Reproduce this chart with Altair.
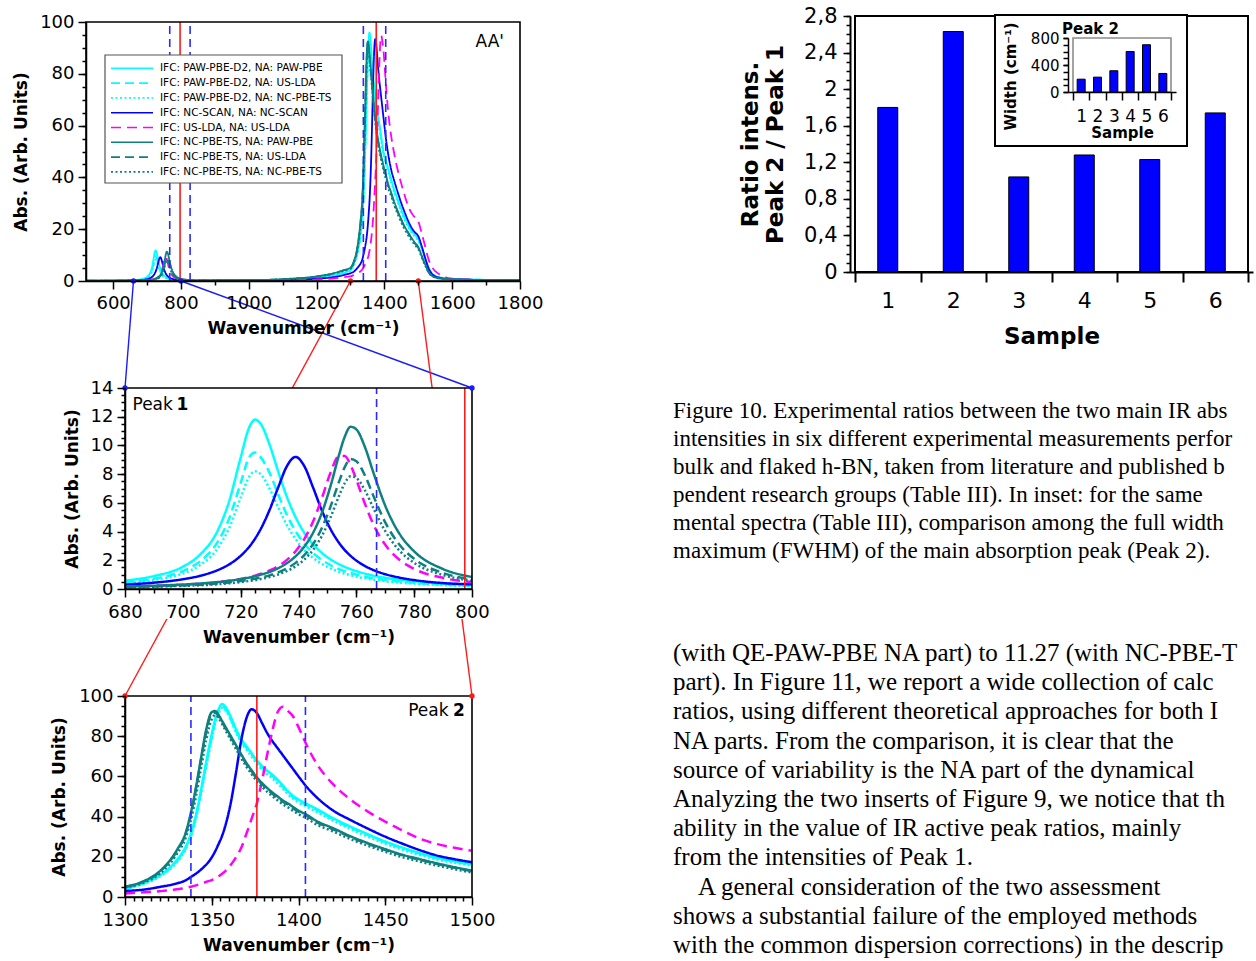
import altair as alt
import pandas as pd

W, H = 1256, 961
FONT = "DejaVu Sans"
SERIF = "Liberation Serif"

# ----------------------------- data -----------------------------
series_names = [
    "IFC: PAW-PBE-D2, NA: PAW-PBE",
    "IFC: PAW-PBE-D2, NA: US-LDA",
    "IFC: PAW-PBE-D2, NA: NC-PBE-TS",
    "IFC: NC-SCAN, NA: NC-SCAN",
    "IFC: US-LDA, NA: US-LDA",
    "IFC: NC-PBE-TS, NA: PAW-PBE",
    "IFC: NC-PBE-TS, NA: US-LDA",
    "IFC: NC-PBE-TS, NA: NC-PBE-TS",
]
series_colors = ["#00FFFF", "#00FFFF", "#00FFFF", "#0000FF", "#FF00FF",
                 "#0F7F7F", "#0F7F7F", "#0F7F7F"]
series_dash = [[1, 0], [9, 5], [2, 2.5], [1, 0], [10, 6], [1, 0], [9, 5], [2, 2.5]]

# wavenumber samples (cm^-1): low region (Peak 1) and high region (Peak 2)
wn_low = [520, 600, 650, 680, 690, 700, 706, 712, 716, 720, 723, 725, 727, 730, 733,
          736, 739, 742, 745, 748, 751, 754, 756, 758, 760, 763, 766, 770, 775, 780,
          790, 800, 850, 900, 1000]
wn_high = [1100, 1200, 1250, 1280, 1300, 1310, 1320, 1330, 1335, 1338, 1341, 1344, 1347,
           1350, 1352, 1354, 1356, 1358, 1361, 1364, 1367, 1370, 1373, 1376, 1379, 1382,
           1385, 1388, 1391, 1394, 1397, 1400, 1405, 1410, 1420, 1430, 1440, 1450, 1460,
           1470, 1480, 1490, 1500, 1510, 1520, 1530, 1540, 1550, 1565, 1580, 1600, 1700, 1800]

paw_paw_low = [0.25, 0.3, 0.35, 0.58, 0.9, 1.55, 2.4, 4.05, 6.1, 9.15, 11.28, 11.8, 11.48,
               10.05, 8.17, 6.41, 5.0, 3.92, 3.12, 2.53, 2.07, 1.73, 1.54, 1.38, 1.24, 1.07,
               0.93, 0.78, 0.64, 0.54, 0.39, 0.29, 0.2, 0.22, 0.3]
paw_paw_high = [0.5, 1.3, 2.2, 3.2, 4.2, 6.8, 10.8, 18.5, 25, 31.5, 41, 54, 68, 81, 88.5,
                93.5, 96, 94.5, 89.5, 83.5, 78.5, 75, 71.5, 68, 65.2, 62.8, 60.8, 58.3, 55.5,
                52.5, 50.2, 48.5, 46.2, 44, 39.2, 35, 31.2, 27.6, 24.5, 21.8, 19.5, 17.8,
                16.4, 13, 9, 5.3, 3, 1.9, 1.3, 1.0, 0.8, 0.45, 0.3]

paw_uslda_low = [0.2, 0.24, 0.28, 0.47, 0.72, 1.25, 1.93, 3.26, 4.9, 7.37, 9.2, 9.5, 9.15,
                 8.09, 6.58, 5.16, 4.03, 3.16, 2.51, 2.04, 1.67, 1.39, 1.24, 1.11, 1.0, 0.86,
                 0.75, 0.63, 0.52, 0.43, 0.31, 0.23, 0.16, 0.2, 0.28]
paw_uslda_high = [0.5, 1.3, 2.2, 3.1, 4.1, 6.6, 10.5, 18, 24.5, 31, 40.5, 53.5, 67, 80, 87.5,
                  92.5, 95, 93.5, 88.5, 82.6, 77.7, 74.2, 70.8, 67.3, 64.5, 62.2, 60.2, 57.7,
                  54.9, 52, 49.7, 48, 45.7, 43.5, 38.8, 34.6, 30.9, 27.3, 24.3, 21.6, 19.3,
                  17.6, 16.2, 12.9, 8.9, 5.2, 3, 1.9, 1.3, 1.0, 0.8, 0.45, 0.3]

paw_ncpbets_low = [0.17, 0.2, 0.24, 0.4, 0.63, 1.08, 1.67, 2.81, 4.24, 6.36, 7.84, 8.2, 7.98,
                   6.98, 5.68, 4.45, 3.48, 2.72, 2.17, 1.76, 1.44, 1.2, 1.07, 0.96, 0.86, 0.74,
                   0.65, 0.54, 0.44, 0.38, 0.27, 0.2, 0.14, 0.18, 0.26]
paw_ncpbets_high = [0.45, 1.2, 2.0, 3.0, 4.0, 6.4, 10.2, 17.5, 23.8, 30.2, 39.5, 52.2, 65.8,
                    78.8, 86.5, 91.5, 94, 92.8, 88, 82, 77, 73.4, 69.8, 66.3, 63.4, 61, 59,
                    56.5, 53.8, 51, 48.8, 47.1, 44.8, 42.6, 37.9, 33.8, 30, 26.5, 23.5, 20.9,
                    18.6, 17, 15.6, 12.4, 8.5, 5, 2.8, 1.8, 1.2, 0.9, 0.7, 0.4, 0.28]

scan_low = [0.1, 0.13, 0.2, 0.31, 0.44, 0.68, 0.92, 1.31, 1.71, 2.31, 2.95, 3.51, 4.2, 5.51,
            7.09, 8.56, 9.2, 8.56, 7.09, 5.51, 4.2, 3.22, 2.71, 2.31, 1.98, 1.6, 1.31, 1.03,
            0.79, 0.62, 0.41, 0.33, 0.15, 0.18, 0.25]
scan_high = [0.4, 0.9, 1.5, 2.3, 3.0, 3.6, 5.0, 6.8, 8.3, 10.0, 11.7, 13.8, 16.3, 19.7, 22.8,
             26.5, 30.5, 36, 47, 62, 78, 89, 93.4, 91.5, 86.5, 81.5, 77.5, 74, 70.5, 67,
             63.5, 60, 54.5, 50, 43, 38.3, 34, 30, 26.5, 23.3, 20.6, 18.8, 17.3, 13.5, 9,
             5, 2.8, 1.8, 1.2, 0.9, 0.7, 0.4, 0.3]

uslda_low = [0.05, 0.08, 0.12, 0.17, 0.22, 0.3, 0.37, 0.48, 0.58, 0.7, 0.83, 0.93, 1.06,
             1.29, 1.6, 2.03, 2.63, 3.48, 4.68, 6.28, 8.06, 9.26, 9.27, 8.64, 7.62, 5.92,
             4.46, 3.08, 2.02, 1.4, 0.77, 0.48, 0.15, 0.15, 0.2]
uslda_high = [0.3, 0.6, 1.0, 1.5, 1.8, 2.3, 2.9, 3.8, 4.5, 5.1, 5.8, 6.7, 7.6, 8.4, 9.2,
              10.3, 11.6, 13, 16, 19.8, 24.5, 31.5, 39, 46.6, 58, 71, 83, 92, 94.7, 92.5,
              89.7, 84.5, 75, 67, 56, 48.5, 42.5, 37.5, 33, 29, 26.3, 24.5, 23, 18.5, 13.5,
              8.5, 5.5, 3.8, 2.4, 1.4, 0.9, 0.4, 0.3]

ts_paw_low = [0.05, 0.08, 0.12, 0.17, 0.23, 0.31, 0.38, 0.48, 0.57, 0.69, 0.8, 0.89, 1.0,
              1.19, 1.45, 1.8, 2.28, 2.95, 3.9, 5.26, 7.12, 9.33, 10.61, 11.3, 11.12, 9.87,
              8.05, 5.8, 3.82, 2.62, 1.39, 0.84, 0.25, 0.25, 0.3]
ts_paw_high = [0.7, 1.8, 3.0, 4.2, 5.1, 7.6, 12.8, 23.5, 32, 42, 55, 70, 84, 92, 92.5, 90.5,
               87.5, 84.5, 80, 75.5, 71, 66.7, 63, 59.5, 56.7, 54.2, 52, 50, 48, 46.5, 44.7,
               43, 40.8, 38, 34.2, 30.2, 26.8, 23.8, 21, 18.8, 16.7, 14.8, 13.1, 9.8, 6.5,
               3.6, 2.0, 1.4, 1.0, 0.8, 0.6, 0.4, 0.3]

ts_uslda_low = [0.04, 0.06, 0.1, 0.14, 0.18, 0.25, 0.3, 0.38, 0.46, 0.55, 0.64, 0.71, 0.8,
                0.95, 1.16, 1.44, 1.82, 2.36, 3.12, 4.21, 5.7, 7.46, 8.49, 9.05, 8.9, 7.9,
                6.44, 4.64, 3.06, 2.1, 1.11, 0.67, 0.2, 0.22, 0.28]
ts_uslda_high = [0.7, 1.7, 2.9, 4.1, 5.0, 7.4, 12.5, 23, 31.5, 41.3, 54.2, 69, 83, 91.3,
                 91.8, 90, 87, 83.9, 79.4, 74.9, 70.4, 66.1, 62.4, 58.9, 56.1, 53.6, 51.4,
                 49.4, 47.4, 45.9, 44.1, 42.4, 40.2, 37.5, 33.7, 29.8, 26.4, 23.4, 20.7,
                 18.5, 16.4, 14.5, 12.8, 9.6, 6.3, 3.5, 2.0, 1.4, 1.0, 0.8, 0.6, 0.4, 0.3]

ts_ts_low = [0.03, 0.05, 0.08, 0.12, 0.16, 0.22, 0.26, 0.33, 0.4, 0.48, 0.56, 0.62, 0.7,
             0.83, 1.01, 1.25, 1.58, 2.05, 2.71, 3.66, 4.95, 6.48, 7.37, 7.85, 7.73, 6.86,
             5.59, 4.03, 2.65, 1.82, 0.97, 0.58, 0.18, 0.2, 0.26]
ts_ts_high = [0.65, 1.6, 2.8, 3.9, 4.7, 6.9, 11.6, 21.5, 29.5, 38.5, 50.5, 65, 79, 88.5,
              90.5, 89, 86, 82.8, 78.2, 73.6, 69, 64.8, 61.1, 57.6, 54.8, 52.3, 50.1, 48.1,
              46.1, 44.6, 42.8, 41.2, 39, 36.3, 32.6, 28.8, 25.5, 22.5, 19.8, 17.6, 15.6,
              13.8, 12.2, 9.1, 6.0, 3.3, 1.9, 1.3, 0.95, 0.75, 0.55, 0.4, 0.28]

low_sets = [paw_paw_low, paw_uslda_low, paw_ncpbets_low, scan_low, uslda_low,
            ts_paw_low, ts_uslda_low, ts_ts_low]
high_sets = [paw_paw_high, paw_uslda_high, paw_ncpbets_high, scan_high, uslda_high,
             ts_paw_high, ts_uslda_high, ts_ts_high]

# experimental reference lines (cm^-1)
exp_peak_pos = [797.5, 1376]
exp_range_pos = [767, 827, 1338, 1404]

# bar chart
sample_ids = [1, 2, 3, 4, 5, 6]
ratio_p2_p1 = [1.80, 2.63, 1.04, 1.28, 1.23, 1.74]
fwhm_p2 = [190, 220, 315, 600, 700, 275]

caption_lines = [
    "Figure 10. Experimental ratios between the two main IR abs",
    "intensities in six different experimental measurements perfor",
    "bulk and flaked h-BN, taken from literature and published b",
    "pendent research groups (Table III). In inset:  for the same",
    "mental spectra (Table III), comparison among the full width",
    "maximum (FWHM) of the main absorption peak (Peak 2).",
]
body_lines = [
    "(with QE-PAW-PBE NA part) to 11.27 (with NC-PBE-T",
    "part).  In Figure 11, we report a wide collection of calc",
    "ratios, using different theoretical approaches for both I",
    "NA parts.  From the comparison, it is clear that the",
    "source of variability is the NA part of the dynamical",
    "Analyzing the two inserts of Figure 9, we notice that th",
    "ability in the value of IR active peak ratios, mainly",
    "from the intensities of Peak 1.",
    "A general consideration of the two assessment",
    "shows a substantial failure of the employed methods",
    "with the common dispersion corrections) in the descrip",
]

# ----------------------------- layout -----------------------------
TOP = dict(xd=[520, 1800], xr=[86, 520], yd=[0, 100], yr=[281, 22])
P1 = dict(xd=[680, 800], xr=[125, 472], yd=[0, 14], yr=[589, 388])
P2 = dict(xd=[1300, 1500], xr=[125, 472], yd=[0, 100], yr=[897, 696])
BAR = dict(xd=[0.5, 6.5], xr=[850, 1253], yd=[0, 2.8], yr=[272, 16])
INS = dict(xd=[0.5, 6.5], xr=[1068, 1176], yd=[0, 800], yr=[92, 38])


def scale_x(P):
    return alt.Scale(domain=P["xd"], range=P["xr"], nice=False, zero=False)


def scale_y(P):
    return alt.Scale(domain=P["yd"], range=P["yr"], nice=False, zero=False)


PIXX = alt.Scale(domain=[0, W], range=[0, W], nice=False, zero=False)
PIXY = alt.Scale(domain=[0, H], range=[0, H], nice=False, zero=False)


def to_px(P, xv, yv):
    (a, b), (r0, r1) = P["xd"], P["xr"]
    (c, d), (s0, s1) = P["yd"], P["yr"]
    return r0 + (xv - a) / (b - a) * (r1 - r0), s0 + (yv - c) / (d - c) * (s1 - s0)


def seq(a, b, step):
    n = int(round((b - a) / step))
    return [round(a + i * step, 4) for i in range(n + 1)]


def make_axis(P, ch, values, labels=True, title=None, tick=8, tickw=1.5, fs=18, tfs=17,
              domain=True, dw=1.5, label_expr=None, title_pad=8, label_pad=4, ticks=True,
              fmt=None, title_y=None):
    kw = {}
    if ch == "x":
        kw["orient"] = "bottom"
        kw["offset"] = P["yr"][0] - H
    else:
        kw["orient"] = "left"
        kw["offset"] = -P["xr"][0]
    kw.update(values=values, labels=labels, ticks=ticks, tickSize=tick, tickWidth=tickw,
              tickColor="black", domain=domain, domainColor="black", domainWidth=dw,
              grid=False, labelFont=FONT, labelFontSize=fs, labelColor="black",
              labelFlush=False, labelOverlap=False, labelPadding=label_pad,
              titleFont=FONT, titleFontSize=tfs, titleFontWeight="bold",
              titleColor="black", titlePadding=title_pad, zindex=1, title=title)
    if label_expr:
        kw["labelExpr"] = label_expr
    if fmt:
        kw["format"] = fmt
    if title_y is not None:
        kw["titleY"] = title_y
    return alt.Axis(**kw)


rows = []
for name, lo, hi in zip(series_names, low_sets, high_sets):
    assert len(lo) == len(wn_low), name
    assert len(hi) == len(wn_high), name
    for x, v in zip(wn_low + wn_high, lo + hi):
        rows.append({"series": name, "wn": x, "absorb": v})
spectra = pd.DataFrame(rows)

color_enc = alt.Color("series:N", scale=alt.Scale(domain=series_names, range=series_colors),
                      legend=None)
dash_enc = alt.StrokeDash("series:N", scale=alt.Scale(domain=series_names, range=series_dash),
                          legend=None)
ONE = pd.DataFrame({"k": [0]})


def spectrum_panel(P, xmaj, xmin, ymaj, ymin, lw, notes, xlab_pad, ytitle_pad):
    lo, hi = P["xd"]
    d = spectra[(spectra.wn >= lo) & (spectra.wn <= hi)]
    lines = alt.Chart(d).mark_line(strokeWidth=lw, interpolate="monotone").encode(
        x=alt.X("wn:Q", scale=scale_x(P),
                axis=make_axis(P, "x", xmaj, title="Wavenumber (cm⁻¹)", label_pad=xlab_pad,
                               fmt="d")),
        y=alt.Y("absorb:Q", scale=scale_y(P),
                axis=make_axis(P, "y", ymaj, title="Abs. (Arb. Units)", title_pad=ytitle_pad,
                               fmt="d")),
        color=color_enc, strokeDash=dash_enc, order=alt.Order("wn:Q"))
    lim = pd.DataFrame({"pos": [v for v in exp_range_pos if lo <= v <= hi]})
    lim["y0"], lim["y1"] = P["yd"][0], P["yd"][1]
    pk = pd.DataFrame({"pos": [v for v in exp_peak_pos if lo <= v <= hi]})
    pk["y0"], pk["y1"] = P["yd"][0], P["yd"][1]
    lim_rules = alt.Chart(lim).mark_rule(color="#2A2AFF", strokeWidth=1.6,
                                         strokeDash=[8, 5]).encode(
        x=alt.X("pos:Q", scale=scale_x(P), axis=None),
        y=alt.Y("y0:Q", scale=scale_y(P), axis=None), y2="y1")
    pk_rules = alt.Chart(pk).mark_rule(color="#FF1A1A", strokeWidth=1.6).encode(
        x=alt.X("pos:Q", scale=scale_x(P), axis=None),
        y=alt.Y("y0:Q", scale=scale_y(P), axis=None), y2="y1")
    fr = pd.DataFrame({"x0": [lo], "x1": [hi], "y0": [P["yd"][0]], "y1": [P["yd"][1]]})
    frame = alt.Chart(fr).mark_rect(fillOpacity=0, stroke="black", strokeWidth=1.6).encode(
        x=alt.X("x0:Q", scale=scale_x(P),
                axis=make_axis(P, "x", xmin, labels=False, tick=4, domain=False)),
        x2="x1",
        y=alt.Y("y0:Q", scale=scale_y(P),
                axis=make_axis(P, "y", ymin, labels=False, tick=4, domain=False)),
        y2="y1")
    note_layers = []
    for (tx, ty, txt, weight, align) in notes:
        nd = pd.DataFrame({"x": [tx], "y": [ty], "t": [txt]})
        note_layers.append(alt.Chart(nd).mark_text(
            font=FONT, fontSize=17, fontWeight=weight, align=align, baseline="middle",
            color="black").encode(
            x=alt.X("x:Q", scale=scale_x(P), axis=None),
            y=alt.Y("y:Q", scale=scale_y(P), axis=None), text="t:N"))
    return alt.layer(lines, lim_rules, pk_rules, frame, *note_layers).resolve_axis(
        x="independent", y="independent")


# ----------------------------- connectors -----------------------------
conn_blue = []
conn_red = []
for (xa, xb_panel, xb, yb) in [(660, P1, 680, 14), (800, P1, 800, 14)]:
    a = to_px(TOP, xa, 0)
    b = to_px(xb_panel, xb, yb)
    conn_blue.append({"x": a[0], "y": a[1], "x2": b[0], "y2": b[1]})
for (xa, xb_panel, xb, yb) in [(1300, P2, 1300, 100), (1500, P2, 1500, 100)]:
    a = to_px(TOP, xa, 0)
    b = to_px(xb_panel, xb, yb)
    conn_red.append({"x": a[0], "y": a[1], "x2": b[0], "y2": b[1]})
conn_blue_df = pd.DataFrame(conn_blue)
conn_red_df = pd.DataFrame(conn_red)


def conn_layer(df, color):
    return alt.Chart(df).mark_rule(color=color, strokeWidth=1.4).encode(
        x=alt.X("x:Q", scale=PIXX, axis=None), y=alt.Y("y:Q", scale=PIXY, axis=None),
        x2="x2", y2="y2")


def dots_layer(df, color):
    pts = pd.concat([df[["x", "y"]], df[["x2", "y2"]].rename(columns={"x2": "x", "y2": "y"})])
    return alt.Chart(pts).mark_circle(color=color, size=28, opacity=1).encode(
        x=alt.X("x:Q", scale=PIXX, axis=None), y=alt.Y("y:Q", scale=PIXY, axis=None))


# mask hiding the red connectors behind the Peak 1 panel
mask = alt.Chart(ONE).mark_rect(color="white").encode(
    x=alt.value(55), x2=alt.value(500), y=alt.value(388), y2=alt.value(619))

# ----------------------------- spectrum panels -----------------------------
top_panel = spectrum_panel(TOP, seq(600, 1800, 200), seq(700, 1700, 200),
                           seq(0, 100, 20), seq(5, 95, 5), 1.8,
                           [(1711, 92.3, "AA'", "normal", "center")], 5, 9)
p1_panel = spectrum_panel(P1, seq(680, 800, 20), seq(685, 795, 5),
                          seq(0, 14, 2), seq(0.5, 13.5, 0.5), 2.5,
                          [(682.6, 12.85, "Peak", "normal", "left"),
                           (697.8, 12.85, "1", "bold", "left")], 6, 9)
p2_panel = spectrum_panel(P2, seq(1300, 1500, 50), seq(1305, 1495, 5),
                          seq(0, 100, 20), seq(5, 95, 5), 2.5,
                          [(1486.5, 92.3, "Peak", "normal", "right"),
                           (1489.0, 92.3, "2", "bold", "left")], 6, 10)

# ----------------------------- legend -----------------------------
legend_df = pd.DataFrame({"series": series_names,
                          "ypx": [68.3 + 14.8 * i for i in range(len(series_names))]})
legend_box = alt.Chart(ONE).mark_rect(fill="white", stroke="#555555", strokeWidth=1.2).encode(
    x=alt.value(105), x2=alt.value(342), y=alt.value(55), y2=alt.value(183))
legend_sym = alt.Chart(legend_df).mark_rule(strokeWidth=1.6).encode(
    x=alt.value(111), x2=alt.value(153),
    y=alt.Y("ypx:Q", scale=PIXY, axis=None), color=color_enc, strokeDash=dash_enc)
legend_txt = alt.Chart(legend_df).mark_text(font=FONT, fontSize=10.5, align="left",
                                            baseline="middle", color="black").encode(
    x=alt.value(160), y=alt.Y("ypx:Q", scale=PIXY, axis=None), text="series:N")

# ----------------------------- bar chart -----------------------------
bar_df = pd.DataFrame({"sample": sample_ids, "ratio": ratio_p2_p1})
bar_main = alt.Chart(bar_df).mark_bar(size=20, color="#0000FF", stroke="black",
                                      strokeWidth=1).encode(
    x=alt.X("sample:Q", scale=scale_x(BAR),
            axis=make_axis(BAR, "x", sample_ids, ticks=False, fs=22, title="Sample", tfs=23,
                           label_pad=18, title_pad=14, dw=2, fmt="d")),
    y=alt.Y("ratio:Q", scale=scale_y(BAR),
            axis=make_axis(BAR, "y", seq(0, 2.8, 0.4), tick=7, fs=21,
                           title=["Ratio intens.", "Peak 2 / Peak 1"], tfs=23, dw=2,
                           label_pad=6, title_pad=16,
                           label_expr="replace(format(datum.value, '.1~f'), '.', ',')")))
bar_fr = pd.DataFrame({"x0": [0.5], "x1": [6.5], "y0": [0], "y1": [2.8]})
bar_frame = alt.Chart(bar_fr).mark_rect(fillOpacity=0, stroke="black", strokeWidth=2).encode(
    x=alt.X("x0:Q", scale=scale_x(BAR),
            axis=make_axis(BAR, "x", seq(0.5, 6.5, 1), labels=False, tick=10, tickw=2,
                           domain=False)),
    x2="x1",
    y=alt.Y("y0:Q", scale=scale_y(BAR),
            axis=make_axis(BAR, "y", seq(0, 2.8, 0.1), labels=False, tick=4, domain=False)),
    y2="y1")
bar_panel = alt.layer(bar_main, bar_frame).resolve_axis(x="independent", y="independent")

# ----------------------------- inset -----------------------------
inset_box = alt.Chart(ONE).mark_rect(fill="white", stroke="black", strokeWidth=2).encode(
    x=alt.value(995), x2=alt.value(1187), y=alt.value(15), y2=alt.value(146))
ins_df = pd.DataFrame({"sample": sample_ids, "fwhm": fwhm_p2})
ins_fr = pd.DataFrame({"x0": [0.5], "x1": [6.5], "y0": [0], "y1": [800]})
ins_frame = alt.Chart(ins_fr).mark_rect(fillOpacity=0, stroke="#8C8C8C", strokeWidth=1.6).encode(
    x=alt.X("x0:Q", scale=scale_x(INS),
            axis=make_axis(INS, "x", seq(0.5, 6.5, 1), labels=False, tick=8, domain=False)),
    x2="x1",
    y=alt.Y("y0:Q", scale=scale_y(INS),
            axis=make_axis(INS, "y", seq(0, 800, 100), labels=False, tick=5, domain=False)),
    y2="y1")
ins_bars = alt.Chart(ins_df).mark_bar(size=8, color="#0000FF", stroke="black",
                                      strokeWidth=1).encode(
    x=alt.X("sample:Q", scale=scale_x(INS),
            axis=make_axis(INS, "x", sample_ids, ticks=False, fs=17, title="Sample", tfs=15,
                           label_pad=16, title_pad=1, dw=1.5, fmt="d")),
    y=alt.Y("fwhm:Q", scale=scale_y(INS),
            axis=make_axis(INS, "y", [0, 400, 800], tick=5, fs=15, title="Width (cm⁻¹)",
                           tfs=15, label_pad=4, title_pad=12, dw=1.5, fmt="d", title_y=76)))
ins_panel = alt.layer(ins_frame, ins_bars).resolve_axis(x="independent", y="independent")
ins_title = alt.Chart(ONE).mark_text(text="Peak 2", font=FONT, fontSize=15, fontWeight="bold",
                                     align="left", baseline="middle", color="black").encode(
    x=alt.value(1062), y=alt.value(29))

# ----------------------------- text -----------------------------
cap_df = pd.DataFrame({"t": caption_lines,
                       "xpx": [673] * len(caption_lines),
                       "ypx": [411 + 28 * i for i in range(len(caption_lines))]})
body_y = [653 + 29.2 * i for i in range(11)]
body_x = [673] * 8 + [698, 673, 673]
body_df = pd.DataFrame({"t": body_lines, "xpx": body_x, "ypx": body_y})


def text_layer(df, size):
    return alt.Chart(df).mark_text(font=SERIF, fontSize=size, align="left",
                                   baseline="middle", color="black").encode(
        x=alt.X("xpx:Q", scale=PIXX, axis=None), y=alt.Y("ypx:Q", scale=PIXY, axis=None),
        text="t:N")


chart = alt.layer(
    conn_layer(conn_blue_df, "#1A1AFF"),
    conn_layer(conn_red_df, "#FF1A1A"),
    mask,
    top_panel,
    legend_box, legend_sym, legend_txt,
    p1_panel,
    p2_panel,
    bar_panel,
    inset_box,
    ins_panel,
    ins_title,
    text_layer(cap_df, 23),
    text_layer(body_df, 25),
    dots_layer(conn_blue_df, "#1A1AFF"),
    dots_layer(conn_red_df, "#FF1A1A"),
).resolve_scale(x="independent", y="independent").properties(
    width=W, height=H, padding=0, background="white",
    autosize=alt.AutoSizeParams(type="none"),
).configure_view(strokeWidth=0)

chart.save("out.html", embed_options={"renderer": "svg", "actions": False})
